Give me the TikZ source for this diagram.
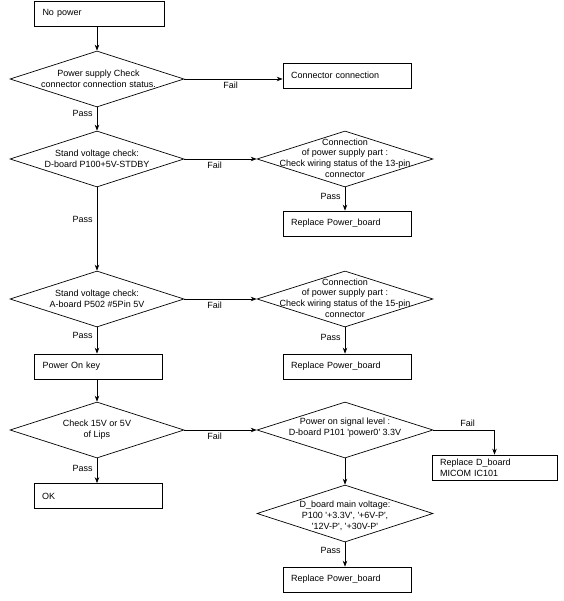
\documentclass[tikz,border=0pt]{standalone}
\usepackage{fontspec}
\setmainfont{Liberation Sans}[Ligatures=TeXOff]
\usetikzlibrary{shapes.geometric,arrows.meta}
\begin{document}
\begin{tikzpicture}[x=1pt,y=-1pt,
  every node/.style={font=\fontsize{9}{10.7}\selectfont},
  dia/.style={draw, diamond, inner sep=0pt, minimum width=174pt, minimum height=56pt, line width=0.7pt},
  dtext/.style={align=center, inner sep=0pt},
  box/.style={draw, rectangle, minimum height=25pt, text width=112pt, inner xsep=8pt, inner ysep=2pt, align=left, line width=0.7pt},
  arr/.style={-{Stealth[length=6pt,width=4.5pt]}, line width=0.7pt},
  lbl/.style={inner sep=1pt}]
\useasboundingbox (0,0) rectangle (563,601);

\node[box, text width=114pt] (n0) at (99.5,13.5) {No power};
\node[dia] (d1) at (97,79) {};
\node[dtext, xshift=1.5pt] (t1) at (d1) {Power supply Check\\connector connection status.};
\node[box] (c1) at (347,75.5) {Connector connection};

\node[dia] (d2) at (97,159) {};
\node[dtext] (t2) at (d2) {Stand voltage check:\\D-board P100+5V-STDBY};
\node[dia, minimum width=176pt] (d3) at (345,159) {};
\node[dtext] (t3) at (345,158) {Connection\\of power supply part :\\Check wiring status of the 13-pin\\connector};
\node[box] (r1) at (347,223.5) {Replace Power\_board};

\node[dia] (d4) at (97,299) {};
\node[dtext] (t4) at (d4) {Stand voltage check:\\A-board P502 \#5Pin 5V};
\node[dia, minimum width=176pt] (d5) at (345,299) {};
\node[dtext] (t5) at (345,298) {Connection\\of power supply part :\\Check wiring status of the 15-pin\\connector};
\node[box] (r2) at (347,366.5) {Replace Power\_board};
\node[box] (pk) at (98.5,366.5) {Power On key};

\node[dia] (d6) at (97,430) {};
\node[dtext] (t6) at (d6) {Check 15V or 5V\\of Lips};
\node[box] (ok) at (98,496) {OK};
\node[dia, minimum width=176pt] (d7) at (345,430) {};
\node[dtext] (t7) at (345,428) {Power on signal level :\\D-board P101 'power0' 3.3V};
\node[box, text width=109pt] (rd) at (494.5,467.5) {Replace D\_board\\MICOM IC101};
\node[dia, minimum width=176pt, minimum height=57pt] (d8) at (345,513.5) {};
\node[dtext] (t8) at (345,516) {D\_board main voltage:\\P100 '+3.3V', '+6V-P',\\'12V-P', '+30V-P'};
\node[box] (r3) at (347,579.5) {Replace Power\_board};

\draw[arr] (d1.north |- n0.south) -- (d1.north);
\draw[arr] (d1.east) -- node[lbl, below=2pt, pos=0.47] (l1) {Fail} (d1.east -| c1.west);
\draw[arr] (d1.south) -- node[lbl, left=3pt, pos=0.25] (l2) {Pass} (d2.north);
\draw[arr] (d2.east) -- node[lbl, below=2pt, pos=0.42] (l3) {Fail} (d3.west);
\draw[arr] (d3.south) -- node[lbl, left=3pt, pos=0.375] (l4) {Pass} (d3.south |- r1.north);
\draw[arr] (d2.south) -- node[lbl, left=3pt, pos=0.38] (l5) {Pass} (d4.north);
\draw[arr] (d4.east) -- node[lbl, below=2pt, pos=0.42] (l6) {Fail} (d5.west);
\draw[arr] (d5.south) -- node[lbl, left=3pt, pos=0.37] (l7) {Pass} (d5.south |- r2.north);
\draw[arr] (d4.south) -- node[lbl, left=3pt, pos=0.3] (l8) {Pass} (d4.south |- pk.north);
\draw[arr] (d6.north |- pk.south) -- (d6.north);
\draw[arr] (d6.south) -- node[lbl, left=3pt, pos=0.4] (l9) {Pass} (d6.south |- ok.north);
\draw[arr] (d6.east) -- node[lbl, below=2pt, pos=0.42] (l10) {Fail} (d7.west);
\draw[arr] (d7.east) -| node[lbl, above=2pt, pos=0.28] (l11) {Fail} (rd.north);
\draw[arr] (d7.south) -- (d8.north);
\draw[arr] (d8.south) -- node[lbl, left=3pt, pos=0.32] (l12) {Pass} (d8.south |- r3.north);
\end{tikzpicture}
\end{document}
